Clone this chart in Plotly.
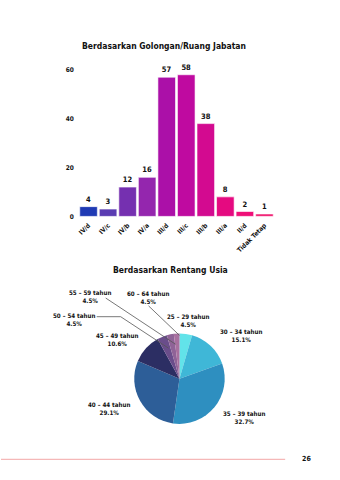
import plotly.graph_objects as go

W, H = 340, 480

# ---- data ----
gol_categories = ["IV/d", "IV/c", "IV/b", "IV/a", "III/d", "III/c", "III/b", "III/a", "II/d", "Tidak Tetap"]
gol_values = [4, 3, 12, 16, 57, 58, 38, 8, 2, 1]
gol_colors = ["#1f3ab4", "#5a3cb2", "#7530b0", "#9426ae", "#ab10a8", "#bf0aa0", "#d30a90", "#e50a80", "#ef0f78", "#f01a70"]
y_ticks = [0, 20, 40, 60]

age_labels = ["25 – 29 tahun", "30 – 34 tahun", "35 – 39 tahun", "40 – 44 tahun",
              "45 – 49 tahun", "50 – 54 tahun", "55 – 59 tahun", "60 – 64 tahun"]
age_pct_text = ["4.5%", "15.1%", "32.7%", "29.1%", "10.6%", "4.5%", "4.5%", "4.5%"]
age_values = [4.5, 15.1, 32.7, 29.1, 10.6, 3.5, 2.5, 2.0]
age_colors = ["#62e3e9", "#3fb7d7", "#2e8fc0", "#2d5e98", "#2c2e63", "#6a4d8b", "#8f6397", "#a8709f"]

FONT = "DejaVu Sans Condensed, DejaVu Sans, sans-serif"


def px(x):
    return x / W


def py(y):
    return 1 - y / H


fig = go.Figure()

fig.add_trace(go.Bar(
    x=gol_categories, y=gol_values,
    marker=dict(color=gol_colors, line=dict(color="white", width=0.6)),
    text=[str(v) for v in gol_values], textposition="outside",
    textfont=dict(family=FONT, size=7.5, color="#111", weight="bold"),
    cliponaxis=False, showlegend=False, xaxis="x", yaxis="y",
))

fig.add_trace(go.Pie(
    labels=age_labels, values=age_values, sort=False, direction="clockwise",
    rotation=0, marker=dict(colors=age_colors, line=dict(width=0)),
    textinfo="none", hoverinfo="label+percent", showlegend=False,
    domain=dict(x=[px(133), px(225)], y=[py(427), py(335)]),
))

fig.update_layout(
    width=W, height=H, margin=dict(l=0, r=0, t=0, b=0),
    paper_bgcolor="white", plot_bgcolor="white",
    font=dict(family=FONT, color="#111"),
    bargap=0.1,
    xaxis=dict(domain=[px(78), px(274)], tickangle=-45, showgrid=False, showline=False,
               zeroline=False, ticks="", ticklabelstandoff=3,
               tickfont=dict(family=FONT, size=6.5, color="#111", weight="bold")),
    yaxis=dict(domain=[py(216), py(67)], range=[0, 60], tickvals=y_ticks, showgrid=False,
               zeroline=False, showline=False, ticks="", ticklabelstandoff=4,
               tickfont=dict(family=FONT, size=6.5, color="#111", weight="bold")),
)

ann = []
ann.append(dict(text="Berdasarkan Golongan/Ruang Jabatan", x=px(163), y=py(43),
                font=dict(family=FONT, size=8.5, color="#111", weight="bold")))
ann.append(dict(text="Berdasarkan Rentang Usia", x=px(170), y=py(270),
                font=dict(family=FONT, size=8.5, color="#111", weight="bold")))

label_pos = {
    "25 – 29 tahun": (188, 322),
    "30 – 34 tahun": (241, 337),
    "35 – 39 tahun": (244, 420),
    "40 – 44 tahun": (108, 411),
    "45 – 49 tahun": (116, 341),
    "50 – 54 tahun": (73, 321),
    "55 – 59 tahun": (89, 297),
    "60 – 64 tahun": (147, 298),
}
for lab, pct in zip(age_labels, age_pct_text):
    cx, cy = label_pos[lab]
    ann.append(dict(text=f"{lab}<br>{pct}", x=px(cx), y=py(cy),
                    font=dict(family=FONT, size=6.2, color="#111", weight="bold")))

ann.append(dict(text="26", x=px(306), y=py(463),
                font=dict(family=FONT, size=7, color="#111", weight="bold")))

for a in ann:
    a.update(xref="paper", yref="paper", showarrow=False, xanchor="center", yanchor="middle")
fig.update_layout(annotations=ann)

line_style = dict(color="#555", width=0.8)
shapes = [
    dict(type="path", path=f"M {px(105)} {py(299)} L {px(175)} {py(346)}", line=line_style),
    dict(type="path", path=f"M {px(148)} {py(307)} L {px(179)} {py(337)}", line=line_style),
    dict(type="path", path=f"M {px(96)} {py(318)} L {px(120)} {py(318)} L {px(168)} {py(350)}", line=line_style),
    dict(type="line", x0=0, x1=px(285), y0=py(463), y1=py(463), line=dict(color="#f5b8b8", width=1.3)),
]
for s in shapes:
    s.update(xref="paper", yref="paper")
fig.update_layout(shapes=shapes)

fig.write_html("out.html")
